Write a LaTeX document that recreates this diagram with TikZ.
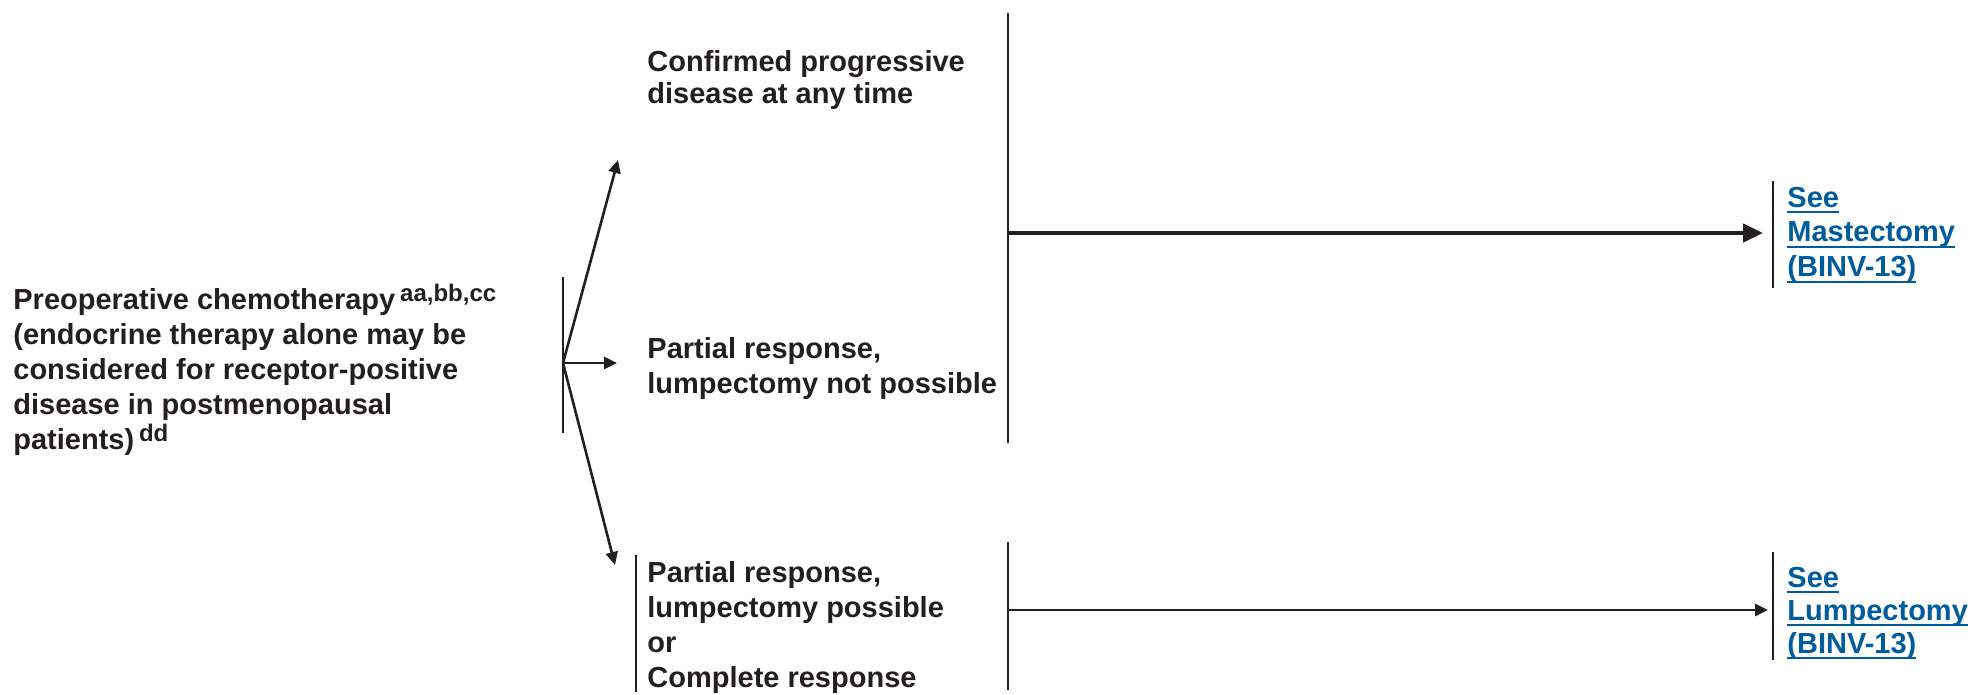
\documentclass[tikz,border=0pt]{standalone}
\usepackage{fontspec}
\setmainfont{Liberation Sans}
\usetikzlibrary{arrows.meta}

\definecolor{ink}{RGB}{35,31,32}
\definecolor{linkblue}{RGB}{0,92,156}

% underlined link text: rule sits just under the baseline
\newcommand\linkline[1]{\setbox0\hbox{#1}\rlap{\rule[-3pt]{\wd0}{1pt}}\box0}
% footnote markers
\newcommand\supnote[1]{\,\raisebox{4pt}{\fontsize{12}{12}\selectfont #1}}

% text nodes are placed by the baseline of their last line
\tikzset{
  txt/.style={inner sep=0pt, anchor=base west, align=left, text=ink,
              font=\bfseries\fontsize{14.5}{17.5}\selectfont},
  tighttxt/.style={txt, font=\bfseries\fontsize{14.5}{16}\selectfont},
  linktxt/.style={txt, text=linkblue},
  tightlink/.style={txt, text=linkblue, font=\bfseries\fontsize{14.5}{16.5}\selectfont},
  rule/.style={draw=ink, line width=1.4pt},
  arr/.style={draw=ink, line width=1.3pt, -{Triangle[length=6.5pt,width=6pt]}},
  bigarr/.style={draw=ink, line width=2.2pt, -{Triangle[length=10pt,width=9pt]}},
}

\begin{document}
\begin{tikzpicture}[x=0.5pt,y=-0.5pt]
  \useasboundingbox (0,0) rectangle (1979,695);

  % starting treatment
  \node[txt] (pre) at (13,449)
    {Preoperative chemotherapy\supnote{aa,bb,cc}\\
     (endocrine therapy alone may be\\
     considered for receptor-positive\\
     disease in postmenopausal\\
     patients)\supnote{dd}};

  % response categories
  \node[tighttxt] (prog) at (647,104) {Confirmed progressive\\disease at any time};
  \node[txt] (pnot) at (647,393) {Partial response,\\lumpectomy not possible};
  \node[txt] (pyes) at (647,687)
    {Partial response,\\lumpectomy possible\\or\\Complete response};

  % destinations
  \node[linktxt] (mast) at (1787,277)
    {\linkline{See}\\\linkline{Mastectomy}\\\linkline{(BINV-13)}};
  \node[tightlink] (lump) at (1787,653)
    {\linkline{See}\\\linkline{Lumpectomy}\\\linkline{(BINV-13)}};

  % bracket and fork after the treatment
  \coordinate (forkTop) at (563,277);
  \coordinate (forkBot) at (563,433);
  \coordinate (fork) at (563,363);
  \coordinate (toProg) at (618,160);
  \coordinate (toPnot) at (617,363);
  \coordinate (toPyes) at (615,565);
  \draw[rule] (forkTop) -- (forkBot);
  \draw[arr] (fork) -- (toProg);
  \draw[arr] (fork) -- (toPnot);
  \draw[arr] (fork) -- (toPyes);

  % bracket in front of the lower response
  \coordinate (pyesTop) at (636,555);
  \coordinate (pyesBot) at (636,692);
  \draw[rule] (pyesTop) -- (pyesBot);

  % upper group to mastectomy
  \coordinate (grpTop) at (1008,13);
  \coordinate (grpBot) at (1008,443);
  \coordinate (grpOut) at (1008,233);
  \coordinate (mastIn) at (1763,233);
  \draw[rule] (grpTop) -- (grpBot);
  \draw[bigarr] (grpOut) -- (mastIn);

  % lower group to lumpectomy
  \coordinate (lowTop) at (1008,542);
  \coordinate (lowBot) at (1008,690);
  \coordinate (lowOut) at (1008,610);
  \coordinate (lumpIn) at (1768,610);
  \draw[rule] (lowTop) -- (lowBot);
  \draw[arr] (lowOut) -- (lumpIn);

  % brackets in front of the destinations
  \coordinate (mastTop) at (1773,181);
  \coordinate (mastBot) at (1773,288);
  \coordinate (lumpTop) at (1773,552);
  \coordinate (lumpBot) at (1773,660);
  \draw[rule] (mastTop) -- (mastBot);
  \draw[rule] (lumpTop) -- (lumpBot);
\end{tikzpicture}
\end{document}
